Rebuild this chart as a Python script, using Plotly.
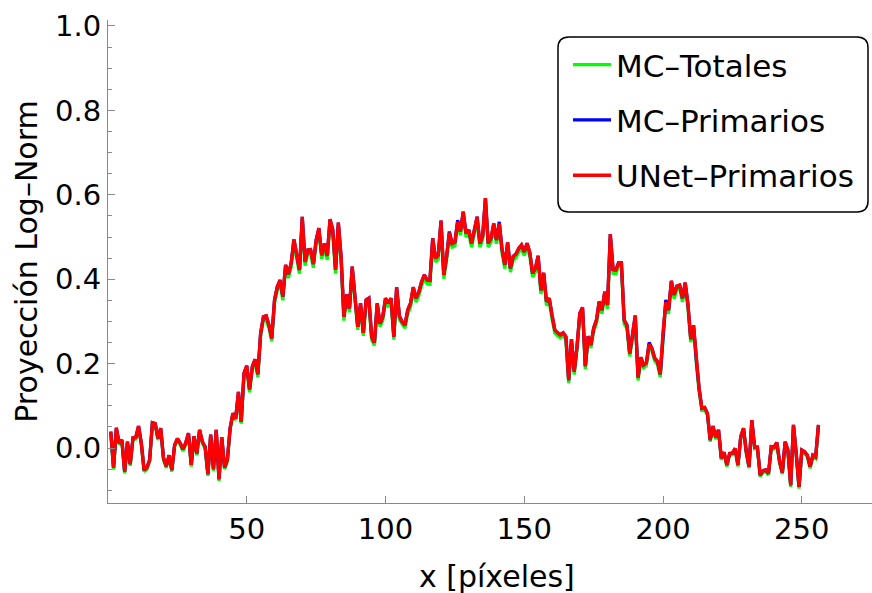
import plotly.graph_objects as go

# Detector column index (pixels)
x_pix = list(range(1, 257))

# Log-normalised projection profiles
mc_primarios = [
    0.039, -0.047, 0.048, 0.012, 0.019, -0.056, 0.015, -0.038, 0.024, 0.025,
    0.052, 0.012, -0.052, -0.047, -0.028, 0.060, 0.058, 0.023, 0.047, -0.024,
    -0.043, -0.017, -0.052, 0.007, 0.022, 0.012, -0.003, 0.012, 0.035, -0.040,
    0.028, -0.013, 0.043, 0.015, 0.003, -0.062, 0.032, -0.050, 0.043, -0.074,
    0.026, -0.046, -0.028, 0.047, 0.082, 0.070, 0.133, 0.062, 0.177, 0.195,
    0.139, 0.193, 0.210, 0.175, 0.272, 0.311, 0.313, 0.291, 0.260, 0.351,
    0.382, 0.398, 0.359, 0.434, 0.412, 0.438, 0.494, 0.453, 0.422, 0.548,
    0.441, 0.469, 0.470, 0.436, 0.493, 0.521, 0.457, 0.485, 0.455, 0.542,
    0.517, 0.422, 0.534, 0.453, 0.311, 0.364, 0.331, 0.430, 0.359, 0.287,
    0.343, 0.273, 0.351, 0.355, 0.264, 0.250, 0.343, 0.295, 0.311, 0.355,
    0.343, 0.355, 0.264, 0.381, 0.313, 0.299, 0.291, 0.327, 0.343, 0.381,
    0.355, 0.370, 0.394, 0.410, 0.398, 0.397, 0.497, 0.450, 0.457, 0.539,
    0.410, 0.453, 0.513, 0.485, 0.488, 0.540, 0.513, 0.560, 0.509, 0.517,
    0.485, 0.517, 0.548, 0.485, 0.502, 0.592, 0.485, 0.497, 0.532, 0.493,
    0.536, 0.470, 0.434, 0.487, 0.426, 0.454, 0.460, 0.473, 0.481, 0.465,
    0.485, 0.463, 0.414, 0.426, 0.455, 0.374, 0.415, 0.347, 0.355, 0.315,
    0.280, 0.273, 0.268, 0.273, 0.264, 0.161, 0.258, 0.181, 0.240, 0.319,
    0.333, 0.194, 0.265, 0.244, 0.284, 0.303, 0.347, 0.327, 0.370, 0.339,
    0.507, 0.423, 0.422, 0.439, 0.439, 0.303, 0.291, 0.224, 0.268, 0.314,
    0.167, 0.215, 0.197, 0.202, 0.250, 0.236, 0.213, 0.205, 0.175, 0.276,
    0.351, 0.327, 0.396, 0.363, 0.384, 0.386, 0.355, 0.392, 0.339, 0.258,
    0.291, 0.209, 0.141, 0.094, 0.096, 0.082, 0.019, 0.052, 0.025, 0.043,
    -0.024, -0.010, -0.040, -0.013, -0.012, -0.001, -0.040, 0.027, 0.047, -0.009,
    -0.044, 0.066, 0.002, 0.002, -0.064, -0.054, -0.052, -0.060, 0.003, 0.002,
    0.013, -0.032, -0.058, 0.015, -0.005, -0.088, 0.055, -0.013, -0.092, -0.005,
    -0.009, -0.017, -0.044, -0.017, -0.021, 0.055,
]

unet_primarios = [
    0.039, -0.047, 0.048, 0.012, 0.019, -0.056, 0.015, -0.038, 0.024, 0.025,
    0.052, 0.012, -0.052, -0.047, -0.028, 0.060, 0.058, 0.023, 0.047, -0.024,
    -0.043, -0.017, -0.052, 0.007, 0.022, 0.012, -0.003, 0.012, 0.035, -0.040,
    0.028, -0.013, 0.043, 0.015, 0.003, -0.062, 0.032, -0.050, 0.043, -0.074,
    0.026, -0.046, -0.028, 0.047, 0.082, 0.070, 0.133, 0.062, 0.177, 0.195,
    0.139, 0.193, 0.210, 0.175, 0.272, 0.311, 0.313, 0.291, 0.260, 0.351,
    0.382, 0.398, 0.359, 0.434, 0.412, 0.438, 0.494, 0.453, 0.422, 0.548,
    0.441, 0.469, 0.470, 0.436, 0.493, 0.521, 0.457, 0.485, 0.455, 0.542,
    0.517, 0.422, 0.534, 0.453, 0.311, 0.364, 0.331, 0.430, 0.359, 0.287,
    0.343, 0.273, 0.351, 0.355, 0.264, 0.250, 0.343, 0.295, 0.311, 0.355,
    0.343, 0.355, 0.264, 0.381, 0.313, 0.299, 0.291, 0.327, 0.343, 0.381,
    0.355, 0.370, 0.394, 0.410, 0.398, 0.397, 0.497, 0.450, 0.457, 0.539,
    0.410, 0.453, 0.510, 0.485, 0.488, 0.536, 0.513, 0.560, 0.509, 0.517,
    0.485, 0.517, 0.548, 0.485, 0.502, 0.592, 0.485, 0.497, 0.532, 0.493,
    0.532, 0.470, 0.434, 0.487, 0.426, 0.454, 0.460, 0.473, 0.481, 0.465,
    0.485, 0.463, 0.414, 0.426, 0.455, 0.374, 0.415, 0.347, 0.355, 0.315,
    0.280, 0.273, 0.268, 0.273, 0.264, 0.161, 0.258, 0.181, 0.240, 0.319,
    0.333, 0.194, 0.265, 0.244, 0.284, 0.303, 0.347, 0.327, 0.370, 0.339,
    0.507, 0.423, 0.422, 0.439, 0.439, 0.303, 0.291, 0.224, 0.268, 0.314,
    0.167, 0.215, 0.197, 0.202, 0.246, 0.236, 0.213, 0.205, 0.175, 0.276,
    0.345, 0.327, 0.396, 0.363, 0.384, 0.386, 0.355, 0.392, 0.339, 0.258,
    0.291, 0.209, 0.141, 0.094, 0.096, 0.082, 0.019, 0.052, 0.025, 0.043,
    -0.024, -0.010, -0.040, -0.013, -0.012, -0.001, -0.040, 0.027, 0.047, -0.009,
    -0.044, 0.066, 0.002, 0.002, -0.064, -0.054, -0.052, -0.060, 0.003, 0.002,
    0.013, -0.032, -0.058, 0.015, -0.005, -0.088, 0.055, -0.013, -0.092, -0.005,
    -0.009, -0.017, -0.044, -0.017, -0.021, 0.055,
]

mc_totales = [
    0.035, -0.051, 0.044, 0.008, 0.015, -0.060, 0.011, -0.042, 0.020, 0.021,
    0.048, 0.008, -0.056, -0.051, -0.032, 0.056, 0.054, 0.019, 0.043, -0.028,
    -0.047, -0.021, -0.056, 0.003, 0.018, 0.008, -0.007, 0.008, 0.031, -0.044,
    0.024, -0.017, 0.039, 0.011, -0.001, -0.066, 0.028, -0.054, 0.039, -0.078,
    0.022, -0.050, -0.032, 0.043, 0.078, 0.066, 0.126, 0.058, 0.170, 0.188,
    0.132, 0.186, 0.203, 0.168, 0.265, 0.302, 0.304, 0.284, 0.253, 0.342,
    0.373, 0.389, 0.350, 0.425, 0.403, 0.429, 0.485, 0.444, 0.413, 0.539,
    0.432, 0.460, 0.461, 0.427, 0.484, 0.512, 0.448, 0.476, 0.446, 0.533,
    0.508, 0.413, 0.525, 0.444, 0.302, 0.355, 0.322, 0.421, 0.350, 0.280,
    0.334, 0.266, 0.342, 0.346, 0.257, 0.243, 0.334, 0.288, 0.302, 0.346,
    0.334, 0.346, 0.257, 0.372, 0.304, 0.292, 0.284, 0.318, 0.334, 0.372,
    0.346, 0.361, 0.385, 0.401, 0.389, 0.388, 0.488, 0.441, 0.448, 0.530,
    0.401, 0.444, 0.504, 0.476, 0.479, 0.531, 0.504, 0.551, 0.500, 0.508,
    0.476, 0.508, 0.539, 0.476, 0.493, 0.583, 0.476, 0.488, 0.523, 0.484,
    0.527, 0.461, 0.425, 0.478, 0.417, 0.445, 0.451, 0.464, 0.472, 0.456,
    0.476, 0.454, 0.405, 0.417, 0.446, 0.365, 0.406, 0.338, 0.346, 0.306,
    0.273, 0.266, 0.261, 0.266, 0.257, 0.154, 0.251, 0.174, 0.233, 0.310,
    0.324, 0.187, 0.258, 0.237, 0.277, 0.294, 0.338, 0.318, 0.361, 0.330,
    0.498, 0.414, 0.413, 0.430, 0.430, 0.294, 0.284, 0.217, 0.261, 0.305,
    0.160, 0.208, 0.190, 0.195, 0.243, 0.229, 0.206, 0.198, 0.168, 0.269,
    0.342, 0.318, 0.387, 0.354, 0.375, 0.377, 0.346, 0.383, 0.330, 0.251,
    0.284, 0.202, 0.134, 0.090, 0.092, 0.078, 0.015, 0.048, 0.021, 0.039,
    -0.028, -0.014, -0.044, -0.017, -0.016, -0.005, -0.044, 0.023, 0.043, -0.013,
    -0.048, 0.062, -0.002, -0.002, -0.068, -0.058, -0.056, -0.064, -0.001, -0.002,
    0.009, -0.036, -0.062, 0.011, -0.009, -0.092, 0.051, -0.017, -0.096, -0.009,
    -0.013, -0.021, -0.048, -0.021, -0.025, 0.051,
]

series_names = ["MC\u2013Totales", "MC\u2013Primarios", "UNet\u2013Primarios"]
series_colors = ["#00ff00", "#0000ff", "#ff0000"]
series_values = [mc_totales, mc_primarios, unet_primarios]

x_ticks = [50, 100, 150, 200, 250]
y_ticks = [0.0, 0.2, 0.4, 0.6, 0.8, 1.0]
y_ticktext = ["0.0", "0.2", "0.4", "0.6", "0.8", "1.0"]

FONT = "DejaVu Sans"
AXIS_GRAY = "#8a8a8a"
W, H = 872, 593
ML, MR, MT, MB = 108, 0, 20, 90

fig = go.Figure()
for k, (name, color, vals) in enumerate(zip(series_names, series_colors, series_values)):
    fig.add_trace(go.Scatter(
        x=x_pix, y=vals, mode="lines", name=name,
        line=dict(color=color, width=3.3),
        legendgroup=f"g{k}",
    ))


def px_to_paper(px, py):
    return (px - ML) / (W - ML - MR), (H - MB - py) / (H - MT - MB)


# Rounded legend frame
x0, y0 = px_to_paper(558, 212)
x1, y1 = px_to_paper(868, 37)
rx = 11 / (W - ML - MR)
ry = 11 / (H - MT - MB)
path = (
    f"M{x0 + rx},{y0} L{x1 - rx},{y0} Q{x1},{y0} {x1},{y0 + ry} "
    f"L{x1},{y1 - ry} Q{x1},{y1} {x1 - rx},{y1} "
    f"L{x0 + rx},{y1} Q{x0},{y1} {x0},{y1 - ry} "
    f"L{x0},{y0 + ry} Q{x0},{y0} {x0 + rx},{y0} Z"
)
fig.add_shape(type="path", path=path, xref="paper", yref="paper",
              line=dict(color="black", width=1.5), fillcolor="white", layer="below")

lx, ly = px_to_paper(568, 38)

# x-axis title
tx, ty = px_to_paper(497, 576)
fig.add_annotation(text="x [píxeles]", xref="paper", yref="paper", x=tx, y=ty,
                   xanchor="center", yanchor="middle", showarrow=False,
                   font=dict(family=FONT, size=30, color="black"))

fig.update_layout(
    width=W, height=H,
    margin=dict(l=ML, r=MR, t=MT, b=MB),
    paper_bgcolor="white", plot_bgcolor="white",
    font=dict(family=FONT, size=30, color="black"),
    showlegend=True,
    legend=dict(
        x=lx, y=ly, xanchor="left", yanchor="top",
        bgcolor="rgba(0,0,0,0)", borderwidth=0,
        font=dict(family=FONT, size=31, color="black"),
        tracegroupgap=12, itemwidth=38,
    ),
    xaxis=dict(
        range=[0, 275.3], showgrid=False, zeroline=False,
        showline=True, linecolor=AXIS_GRAY, linewidth=1,
        ticks="inside", ticklen=7, tickcolor=AXIS_GRAY, tickwidth=1,
        tickvals=x_ticks, ticktext=[str(v) for v in x_ticks],
        tickfont=dict(family=FONT, size=29, color="black"),
        automargin=False,
    ),
    yaxis=dict(
        range=[-0.1303, 1.0142], showgrid=False, zeroline=False,
        showline=True, linecolor=AXIS_GRAY, linewidth=1,
        ticks="inside", ticklen=7, tickcolor=AXIS_GRAY, tickwidth=1,
        tickvals=y_ticks, ticktext=y_ticktext,
        tickfont=dict(family=FONT, size=29, color="black"),
        minor=dict(dtick=0.05, tick0=0, ticks="inside", ticklen=4,
                   tickcolor=AXIS_GRAY, tickwidth=1, showgrid=False),
        title=dict(text="Proyección Log\u2013Norm", font=dict(family=FONT, size=30), standoff=8),
        automargin=False,
    ),
)

fig.write_html("out.html")
